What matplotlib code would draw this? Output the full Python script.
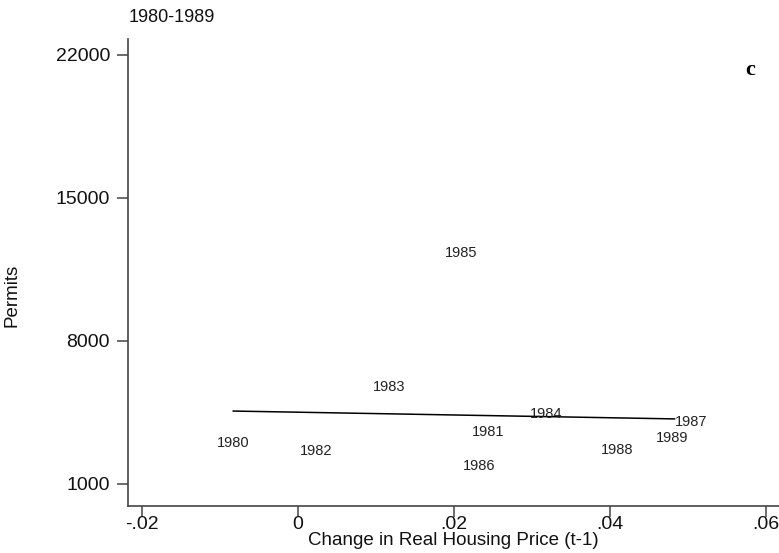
import numpy as np
import matplotlib.pyplot as plt

# Data (x = lagged change in real housing price, y = permits)
years = ['1980', '1981', '1982', '1983', '1984', '1985', '1986', '1987', '1988', '1989']
price_chg = np.array([-0.0083, 0.0244, 0.0023, 0.0117, 0.0318, 0.0209, 0.0233, 0.0483, 0.0410, 0.0480])
permits = np.array([3000, 3550, 2620, 5750, 4420, 12300, 1880, 4030, 2660, 3250])

xticks = [-0.02, 0, 0.02, 0.04, 0.06]
xtick_labels = ['-.02', '0', '.02', '.04', '.06']
yticks = [1000, 8000, 15000, 22000]

plt.rcParams['font.family'] = ['Liberation Sans', 'DejaVu Sans']

fig = plt.figure(figsize=(7.79, 5.53), dpi=100)
ax = fig.add_axes([0.1643, 0.085, 0.8357, 0.8445])

# year labels in place of markers
for yr, xv, yv in zip(years, price_chg, permits):
    if yr == '1987':
        ax.annotate(yr, (xv, yv), xytext=(0, 0), textcoords='offset points',
                    ha='left', va='center', fontsize=10.5, color='#222222')
    else:
        ax.text(xv, yv, yr, ha='center', va='center', fontsize=10.5, color='#222222')

# linear fit
b, a = np.polyfit(price_chg, permits, 1)
xf = np.array([price_chg.min(), price_chg.max()])
ax.plot(xf, a + b * xf, color='black', lw=1.1)

ax.set_xlim(-0.0218, 0.0617)
ax.set_ylim(-80, 22780)
ax.set_xticks(xticks)
ax.set_xticklabels(xtick_labels)
ax.set_yticks(yticks)
ax.set_yticklabels([str(v) for v in yticks])

for s in ['top', 'right']:
    ax.spines[s].set_visible(False)
for s in ['left', 'bottom']:
    ax.spines[s].set_color('#444444')
    ax.spines[s].set_linewidth(1.2)
ax.tick_params(axis='both', direction='out', length=8, width=1.1, color='#444444',
               labelsize=14, labelcolor='#111111')
ax.tick_params(axis='y', pad=5)
ax.tick_params(axis='x', pad=-1)

ax.set_xlabel('Change in Real Housing Price (t-1)', fontsize=13.5, color='#111111')
ax.xaxis.set_label_coords(0.5, -0.056)
ax.set_ylabel('Permits', fontsize=13.5, color='#111111')
ax.yaxis.set_label_coords(-0.165, 0.45)

fig.text(0.1655, 0.968, '1980-1989', fontsize=13, ha='left', va='center', color='#111111')
fig.text(0.963, 0.873, 'c', fontsize=16, fontweight='bold', family='Liberation Serif',
         ha='center', va='center')

fig.savefig('out.png', dpi=100)
